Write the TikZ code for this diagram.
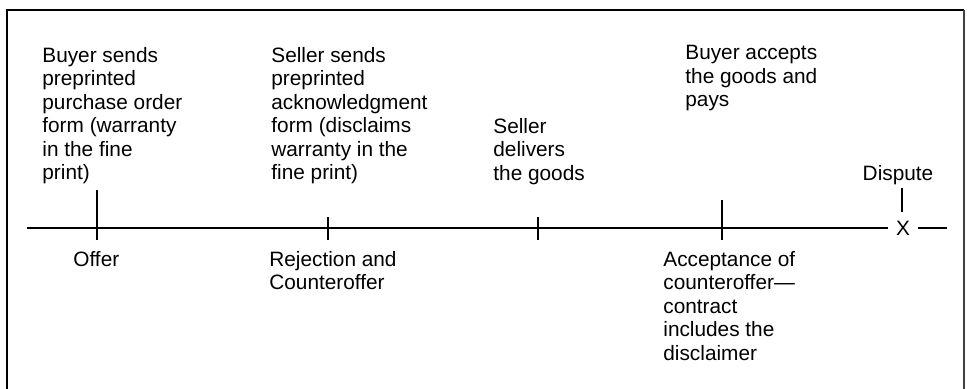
\documentclass[tikz,border=0pt]{standalone}
\usepackage{fontspec}
\setmainfont{Liberation Sans}
\begin{document}
\begin{tikzpicture}[x=0.5pt, y=-0.5pt]
\tikzset{
  event/.style={
    anchor=north west,
    inner sep=0pt,
    align=left,
    font=\fontsize{10.4}{11.75}\selectfont
  },
  tickline/.style={line width=0.6pt},
  mark x/.style={
    inner xsep=4pt,
    inner ysep=0pt,
    font=\fontsize{10.4}{11.75}\selectfont
  }
}
\useasboundingbox (0,0) rectangle (969,388);

% frame
\draw[line width=0.7pt] (7,396) -- (7,10) -- (964,10);
\draw[line width=1.2pt, black!75] (964,10) -- (964,396);

% texts above the line
\node[event] (offer-top) at (42,47) {Buyer sends\\preprinted\\purchase order\\form (warranty\\in the fine\\print)};
\node[event] (counter-top) at (271,47) {Seller sends\\preprinted\\acknowledgment\\form (disclaims\\warranty in the\\fine print)};
\node[event] (deliver-top) at (493,118) {Seller\\delivers\\the goods};
\node[event] (accept-top) at (685,45) {Buyer accepts\\the goods and\\pays};
\node[event, anchor=north] (dispute-top) at (898,165) {Dispute};

% texts below the line
\node[event] (offer-bot) at (73,251) {Offer};
\node[event] (counter-bot) at (269,251) {Rejection and\\Counteroffer};
\node[event] (accept-bot) at (663,251) {Acceptance of\\counteroffer---\\contract\\includes the\\disclaimer};

% time line
\coordinate (start) at (27,228);
\coordinate (stop) at (947,228);
\node[mark x] (X) at (903,228) {X};
\draw[tickline] (start) -- (X);
\draw[tickline] (X) -- (stop);

% ticks
\foreach \n/\x/\t in {offer/97/190, counter/328/217, deliver/538/217, accept/722/200}{
  \coordinate (\n-a) at (\x,\t);
  \coordinate (\n-b) at (\x,240);
  \draw[tickline] (\n-a) -- (\n-b);
}
\coordinate (dispute-a) at (902,188);
\coordinate (dispute-b) at (902,212);
\draw[tickline] (dispute-a) -- (dispute-b);
\end{tikzpicture}
\end{document}
